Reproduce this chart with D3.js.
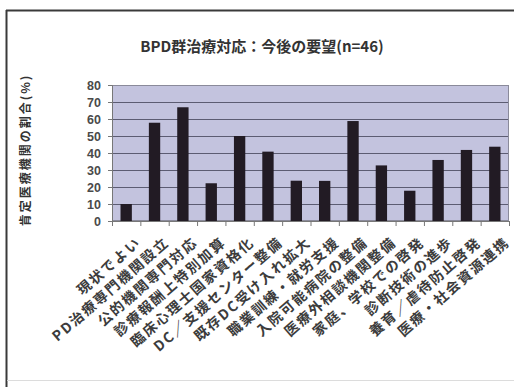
<!DOCTYPE html>
<html>
<head>
<meta charset="utf-8">
<script src="https://cdn.jsdelivr.net/npm/d3@7"></script>
<style>
  html, body { margin: 0; padding: 0; background: #fff; }
  svg { display: block; }
</style>
</head>
<body>
<svg id="chart" width="514" height="387"></svg>
<script>
// Survey responses: share of medical institutions agreeing with each request (%)
const categories = [
  "現状でよい",
  "PD治療専門機関設立",
  "公的機関専門対応",
  "診療報酬上特別加算",
  "臨床心理士国家資格化",
  "DC／支援センター整備",
  "既存DC受け入れ拡大",
  "職業訓練・就労支援",
  "入院可能病院の整備",
  "医療外相談機関整備",
  "家庭、学校での啓発",
  "診断技術の進歩",
  "養育／虐待防止啓発",
  "医療・社会資源連携"
];
const values = [10, 57.8, 66.9, 22.2, 50, 40.8, 23.7, 23.6, 58.8, 32.7, 17.8, 35.9, 41.8, 43.7];
const yTicks = [0, 10, 20, 30, 40, 50, 60, 70, 80];
const titleText = "BPD群治療対応：今後の要望(n=46)";
const yTitle = "肯定医療機関の割合(%)";

const cjkFont = "'Noto Sans CJK JP', 'Liberation Sans', sans-serif";
const numFont = "'Liberation Sans', Arial, sans-serif";

const svg = d3.select("#chart");
const plot = { left: 112, right: 509, top: 85, bottom: 221 };

// Outer frame
svg.append("line").attr("x1", 6.5).attr("x2", 6.5).attr("y1", 10).attr("y2", 387)
  .attr("stroke", "#3a3a3a").attr("stroke-width", 2);
svg.append("line").attr("x1", 6).attr("x2", 514).attr("y1", 10.5).attr("y2", 10.5)
  .attr("stroke", "#3a3a3a").attr("stroke-width", 2);
svg.append("line").attr("x1", 7).attr("x2", 514).attr("y1", 380.5).attr("y2", 380.5)
  .attr("stroke", "#dcdcdc").attr("stroke-width", 1);

const x = d3.scaleBand()
  .domain(categories)
  .range([plot.left, plot.right])
  .paddingInner(0.6)
  .paddingOuter(0.3);

const y = d3.scaleLinear()
  .domain([0, 80])
  .range([plot.bottom, plot.top]);

// Plot background
svg.append("rect")
  .attr("x", plot.left).attr("y", plot.top)
  .attr("width", plot.right - plot.left).attr("height", plot.bottom - plot.top)
  .attr("fill", "#c3c3de");

// Horizontal gridlines
svg.append("g")
  .selectAll("line")
  .data(yTicks.filter(d => d > 0 && d < 80))
  .join("line")
  .attr("x1", plot.left).attr("x2", plot.right)
  .attr("y1", d => Math.round(y(d)) + 0.5).attr("y2", d => Math.round(y(d)) + 0.5)
  .attr("stroke", "#5c5c72").attr("stroke-width", 1);

// Plot border
svg.append("rect")
  .attr("x", plot.left + 0.5).attr("y", plot.top + 0.5)
  .attr("width", plot.right - plot.left - 1).attr("height", plot.bottom - plot.top - 1)
  .attr("fill", "none").attr("stroke", "#8a8a9a").attr("stroke-width", 1);

// Bars
svg.append("g")
  .selectAll("rect")
  .data(values)
  .join("rect")
  .attr("x", (d, i) => x(categories[i]))
  .attr("y", d => y(d))
  .attr("width", x.bandwidth())
  .attr("height", d => y(0) - y(d))
  .attr("fill", "#221b24");

// Y axis
const yAxis = svg.append("g")
  .attr("transform", `translate(${plot.left},0)`)
  .call(d3.axisLeft(y).tickValues(yTicks).tickSize(4).tickPadding(7));
yAxis.select(".domain").attr("stroke", "#777");
yAxis.selectAll(".tick line").attr("stroke", "#777");
yAxis.selectAll(".tick text")
  .style("font-family", numFont)
  .style("font-size", "12.5px").style("font-weight", "bold").attr("fill", "#4a4a4a");

// X axis baseline and category boundary ticks
svg.append("line")
  .attr("x1", plot.left).attr("x2", plot.right)
  .attr("y1", plot.bottom + 0.5).attr("y2", plot.bottom + 0.5)
  .attr("stroke", "#777");
svg.append("g")
  .selectAll("line")
  .data(categories.concat(["__end"]))
  .join("line")
  .attr("x1", (d, i) => plot.left + i * x.step() + 0.5)
  .attr("x2", (d, i) => plot.left + i * x.step() + 0.5)
  .attr("y1", plot.bottom).attr("y2", plot.bottom + 5)
  .attr("stroke", "#777");

// Category labels, rotated
const xAxis = svg.append("g")
  .attr("transform", `translate(0,${plot.bottom})`)
  .call(d3.axisBottom(x).tickSize(0).tickPadding(0));
xAxis.select(".domain").remove();
xAxis.selectAll(".tick text")
  .attr("text-anchor", "end")
  .style("font-family", cjkFont)
  .style("font-size", "14px")
  .style("font-weight", "bold")
  .attr("fill", "#3c3c3c")
  .attr("letter-spacing", 1.8)
  .attr("dy", null)
  .attr("transform", `translate(${x.bandwidth() / 2 + 10},23) rotate(-41)`);

// Title
svg.append("text")
  .attr("x", 262).attr("y", 52)
  .attr("text-anchor", "middle")
  .style("font-family", cjkFont)
  .style("font-size", "15px").style("font-weight", "bold").attr("fill", "#333")
  .text(titleText);

// Y axis title
svg.append("text")
  .attr("transform", "translate(30,150) rotate(-90)")
  .attr("text-anchor", "middle")
  .style("font-family", cjkFont)
  .style("font-size", "12px").style("font-weight", "bold").attr("fill", "#333")
  .attr("letter-spacing", 2)
  .text(yTitle);
</script>
</body>
</html>
